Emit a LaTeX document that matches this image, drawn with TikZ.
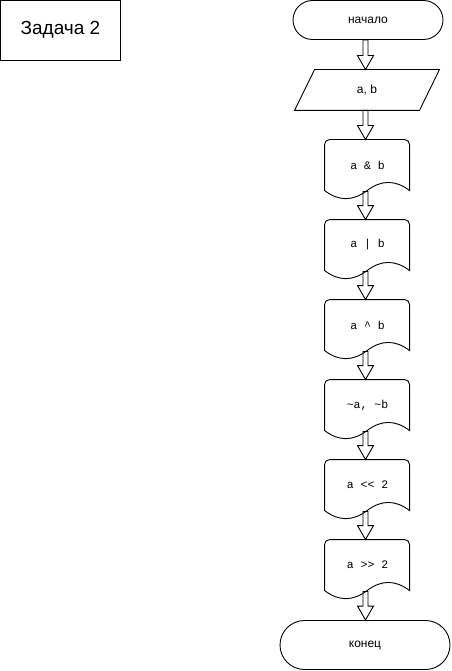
\documentclass[tikz,border=0pt]{standalone}
\usepackage{fontspec}
\setmainfont{Liberation Sans}
\newfontfamily\codefont{Liberation Mono}
\usetikzlibrary{calc,positioning}

% hollow block arrow from #1 down to #2
\newcommand{\flowarrow}[2]{%
  \draw let \p1=(#1), \p2=(#2) in
    (\x1-2.5pt,\y1) -- (\x1-2.5pt,\y2+14pt) -- (\x1-8pt,\y2+14pt) -- (\x1,\y2)
    -- (\x1+8pt,\y2+14pt) -- (\x1+2.5pt,\y2+14pt) -- (\x1+2.5pt,\y1) -- cycle;}

\begin{document}
\begin{tikzpicture}[x=1pt,y=-1pt,line width=0.9pt,
    titlebox/.style={draw,inner sep=0pt,minimum width=120pt,minimum height=59.5pt,font=\fontsize{19}{22}\selectfont},
    terminal/.style={draw,inner sep=0pt,font=\fontsize{12}{14}\selectfont},
    iobox/.style={inner sep=0pt,minimum width=124pt,minimum height=40pt,font=\fontsize{12}{14}\selectfont},
    docbox/.style={inner sep=0pt,minimum width=85pt,minimum height=50pt,font=\codefont\fontsize{11.5}{14}\selectfont}]
  \useasboundingbox (0,0) rectangle (451,671);

  % Define symbols
  \node[titlebox] (title) at (60.5,30.25) {Задача 2};
  \node[terminal,rounded corners=19.5pt,minimum width=150pt,minimum height=39pt] (start) at (368,20) {начало};
  \node[iobox] (input) at (367,90) {a, b};
  \draw ([xshift=10pt]input.north west) -- ([xshift=10pt]input.north east)
    -- ([xshift=-10pt]input.south east) -- ([xshift=-10pt]input.south west) -- cycle;

  \node[docbox] (and) at (367.5,165) {a \& b};
  \node[docbox] (or) at (367.5,245) {a | b};
  \node[docbox] (xor) at (367.5,325) {a \^{} b};
  \node[docbox] (not) at (367.5,405) {\textasciitilde a, \textasciitilde b};
  \node[docbox] (lsh) at (367.5,485) {a << 2};
  \node[docbox] (rsh) at (367.5,565) {a >> 2};
  \node[terminal,rounded corners=24.5pt,minimum width=170pt,minimum height=49pt] (end) at (365,645) {конец};

  % document outlines
  \foreach \n in {and,or,xor,not,lsh,rsh}
    \draw[shift={(\n.north west)}] (0,51) -- (0,5) arc[start angle=180,end angle=270,radius=5]
      -- (80,0) arc[start angle=270,end angle=360,radius=5] -- (85,51)
      .. controls (70.8,40.2) and (56.7,40.2) .. (42.5,51)
      .. controls (28.3,61.8) and (14.2,61.8) .. (0,51) -- cycle;

  % connectors
  \flowarrow{[xshift=-2.5pt]start.south}{[xshift=-1.5pt]input.north}
  \flowarrow{[xshift=-1.5pt]input.south}{[xshift=-2pt]and.north}
  \foreach \a/\b in {and/or,or/xor,xor/not,not/lsh,lsh/rsh}
    \flowarrow{[xshift=-2pt,yshift=-1pt]\a.south}{[xshift=-2pt]\b.north};
  \flowarrow{[xshift=-2pt,yshift=-1pt]rsh.south}{end.north}
\end{tikzpicture}
\end{document}
